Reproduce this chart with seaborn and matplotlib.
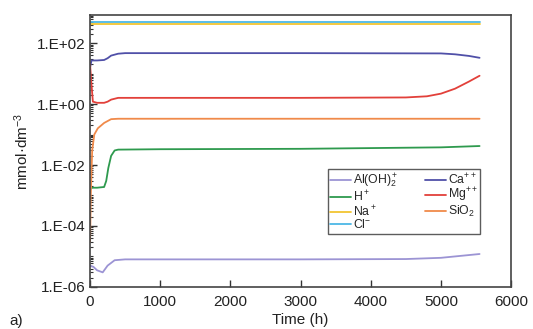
import numpy as np
import pandas as pd
import matplotlib
matplotlib.use("Agg")
import matplotlib.pyplot as plt
import matplotlib.ticker as mticker
import seaborn as sns

# ---- data ----
t_flat = [0, 5550]
cl_vals = [490, 490]
na_vals = [420, 420]

t_ca = [0, 20, 100, 200, 250, 300, 400, 500, 1000, 3000, 5000, 5200, 5400, 5550]
ca_vals = [16, 27, 27, 28, 32, 39, 45, 47, 47, 47, 46, 43, 38, 33]

t_mg = [0, 15, 40, 100, 200, 250, 300, 400, 500, 1000, 3000, 4500, 4800, 5000, 5200, 5400, 5550]
mg_vals = [20, 6, 1.2, 1.1, 1.1, 1.2, 1.4, 1.6, 1.6, 1.6, 1.6, 1.65, 1.8, 2.2, 3.2, 5.5, 8.5]

t_si = [0, 10, 30, 60, 110, 200, 300, 400, 1000, 3000, 5550]
si_vals = [3e-5, 1e-3, 0.03, 0.1, 0.16, 0.24, 0.32, 0.33, 0.33, 0.33, 0.33]

t_h = [0, 30, 100, 200, 230, 260, 300, 350, 400, 1000, 3000, 5000, 5550]
h_vals = [1.6e-3, 1.8e-3, 1.8e-3, 1.9e-3, 3e-3, 8e-3, 0.02, 0.03, 0.032, 0.033, 0.034, 0.038, 0.042]

t_al = [0, 50, 100, 180, 250, 350, 500, 1000, 3000, 4500, 5000, 5550]
al_vals = [5e-6, 4.5e-6, 3.5e-6, 3e-6, 5e-6, 7.5e-6, 8e-6, 8e-6, 8e-6, 8.2e-6, 9e-6, 1.2e-5]

species = [r"Al(OH)$_2^+$", r"H$^+$", r"Na$^+$", r"Cl$^{-}$",
           r"Ca$^{++}$", r"Mg$^{++}$", r"SiO$_2$"]
colors = ["#9c94d4", "#2e9a4e", "#f2c531", "#4cb8e6",
          "#5050a8", "#e2403a", "#f08a4a"]

series = [(t_al, al_vals), (t_h, h_vals), (t_flat, na_vals), (t_flat, cl_vals),
          (t_ca, ca_vals), (t_mg, mg_vals), (t_si, si_vals)]

rows = []
for name, (tt, vv) in zip(species, series):
    for a, b in zip(tt, vv):
        rows.append({"Time": a, "Conc": b, "Species": name})
df = pd.DataFrame(rows)

sns.set_style("ticks")
plt.rcParams["font.family"] = ["Liberation Sans", "DejaVu Sans"]
plt.rcParams["mathtext.fontset"] = "custom"
plt.rcParams["mathtext.rm"] = "Liberation Sans"
plt.rcParams["mathtext.it"] = "Liberation Sans"

fig = plt.figure(figsize=(5.33, 3.29), dpi=100)
ax = fig.add_axes([0.169, 0.128, 0.790, 0.826])

sns.lineplot(data=df, x="Time", y="Conc", hue="Species", hue_order=species,
             palette=dict(zip(species, colors)), linewidth=1.3, ax=ax,
             estimator=None, sort=False, legend=False)

ax.set_yscale("log")
ax.set_xlim(0, 6000)
ax.set_ylim(1e-6, 8.3e2)
ax.yaxis.set_major_locator(mticker.FixedLocator([1e-6, 1e-4, 1e-2, 1e0, 1e2]))
ax.yaxis.set_major_formatter(mticker.FuncFormatter(
    lambda v, p: "1.E%+03d" % int(round(np.log10(v)))))
ax.yaxis.set_minor_locator(mticker.LogLocator(base=10, subs=np.arange(1, 10), numticks=30))
ax.yaxis.set_minor_formatter(mticker.NullFormatter())
ax.set_xticks([0, 1000, 2000, 3000, 4000, 5000, 6000])

ax.tick_params(axis="both", which="major", direction="in", length=5, width=1,
               labelsize=11, colors="#333333", labelcolor="#222222")
ax.tick_params(axis="x", which="major", pad=6)
ax.tick_params(axis="y", which="minor", direction="in", length=2.5, width=0.8,
               colors="#333333")
for s in ax.spines.values():
    s.set_color("#444444")
    s.set_linewidth(1.2)

ax.set_xlabel("Time (h)", fontsize=11, labelpad=3, color="#222222")
ax.set_ylabel(r"mmol·dm$^{-3}$", fontsize=11, labelpad=4, color="#222222")

handles = [plt.Line2D([], [], color=c, lw=1.3) for c in colors]
leg = ax.legend(handles, species, ncol=2, loc="lower left",
                bbox_to_anchor=(0.564, 0.195), fontsize=8.8, frameon=True,
                fancybox=False, edgecolor="#333333", handlelength=1.7,
                handletextpad=0.15, columnspacing=2.2, labelspacing=-0.05,
                borderpad=0.2, borderaxespad=0)
leg.get_frame().set_linewidth(1.0)

fig.text(0.018, 0.012, "a)", fontsize=11, color="#222222")

fig.savefig("out.png", dpi=100)
